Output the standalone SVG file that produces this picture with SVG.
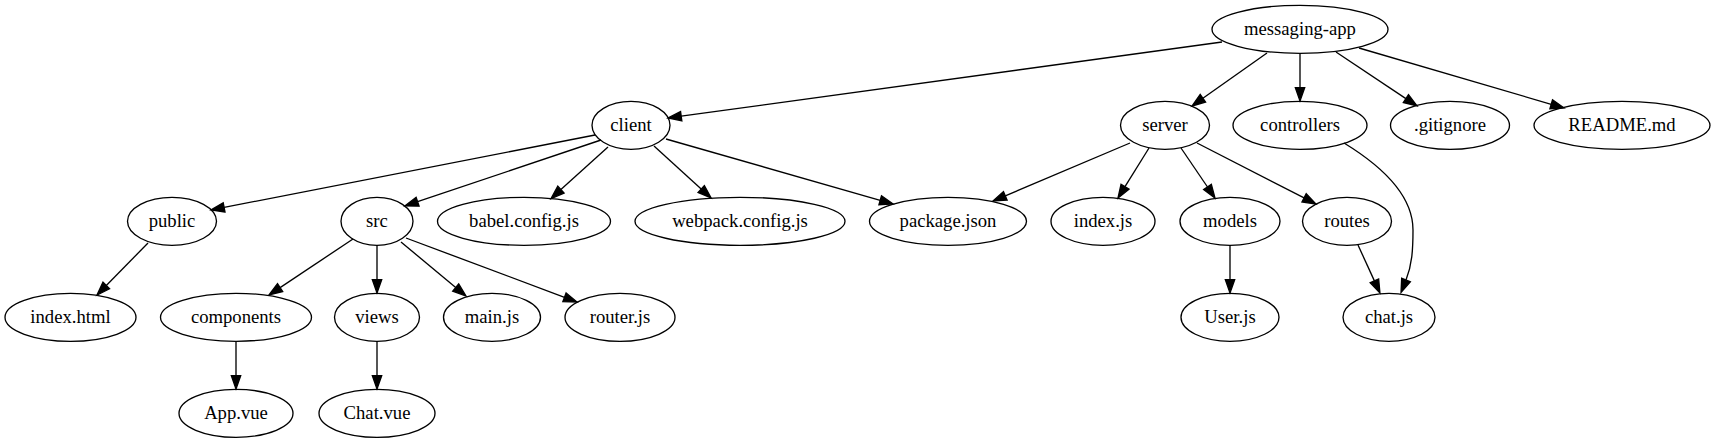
<svg xmlns="http://www.w3.org/2000/svg" width="1716" height="443" viewBox="0 0 1716 443">
<style>
.n ellipse{fill:none;stroke:#000;stroke-width:1.33}
text{font-family:'Liberation Serif','DejaVu Serif','Noto Serif',Times,serif;font-size:18.67px;text-anchor:middle;fill:#000}
#edges path{fill:none;stroke:#000;stroke-width:1.33;marker-end:url(#arr)}
</style>
<defs>
<marker id="arr" markerUnits="userSpaceOnUse" markerWidth="16" markerHeight="12" refX="0" refY="4.67" orient="auto" overflow="visible">
<path d="M0,0 L13.33,4.67 L0,9.33 Z" fill="#000" stroke="#000" stroke-width="1.33"/>
</marker>
</defs>
<rect width="1716" height="443" fill="#fff"/>
<g id="edges">
<path d="M1222,42 L681.2,116.2"/>
<path d="M1267,53 L1202.9,98.3"/>
<path d="M1300,54 L1300,87.7"/>
<path d="M1336,52 L1405.9,98.6"/>
<path d="M1359,48 L1551.2,104.3"/>
<path d="M595,135 L224.1,207.4"/>
<path d="M601,140 L417.6,201.7"/>
<path d="M608,147 L560.9,189.6"/>
<path d="M654,146 L701.2,189"/>
<path d="M666,139 L880.2,200.3"/>
<path d="M1130,143 L1005.3,195.8"/>
<path d="M1149,148 L1125,186.7"/>
<path d="M1181,148 L1207.5,187"/>
<path d="M1197,143 L1304.1,197.9"/>
<path d="M1344,143 C1380,165 1413,195 1413,230 C1413,250 1412,265 1406,280"/>
<path d="M148,243 L106.3,285.5"/>
<path d="M353,239 L280.1,287.6"/>
<path d="M377,245 L377,279.7"/>
<path d="M401,242 L455.7,287.5"/>
<path d="M406,238 L564.5,297.3"/>
<path d="M236,341 L236,375.7"/>
<path d="M377,341 L377,375.7"/>
<path d="M1230,245 L1230,279.7"/>
<path d="M1358,245 L1374.4,280.9"/>
</g>
<g id="messaging-app" class="n"><ellipse cx="1300" cy="29.3" rx="88" ry="24"/><text x="1300" y="34.9" style="font-family:'Liberation Serif',serif">messaging-app</text></g>
<g id="client" class="n"><ellipse cx="631" cy="125.3" rx="39" ry="24"/><text x="631" y="130.9">client</text></g>
<g id="server" class="n"><ellipse cx="1165" cy="125.3" rx="44.5" ry="24"/><text x="1165" y="130.9">server</text></g>
<g id="controllers" class="n"><ellipse cx="1300" cy="125.3" rx="67" ry="24"/><text x="1300" y="130.9">controllers</text></g>
<g id="gitignore" class="n"><ellipse cx="1450" cy="125.3" rx="59.5" ry="24"/><text x="1450" y="130.9">.gitignore</text></g>
<g id="readme" class="n"><ellipse cx="1622" cy="125.3" rx="88" ry="24"/><text x="1622" y="130.9">README.md</text></g>
<g id="public" class="n"><ellipse cx="172" cy="221.3" rx="44.5" ry="24"/><text x="172" y="226.9">public</text></g>
<g id="src" class="n"><ellipse cx="377" cy="221.3" rx="36" ry="24"/><text x="377" y="226.9">src</text></g>
<g id="babel" class="n"><ellipse cx="524" cy="221.3" rx="86.5" ry="24"/><text x="524" y="226.9">babel.config.js</text></g>
<g id="webpack" class="n"><ellipse cx="740" cy="221.3" rx="105" ry="24"/><text x="740" y="226.9">webpack.config.js</text></g>
<g id="package" class="n"><ellipse cx="948" cy="221.3" rx="78.5" ry="24"/><text x="948" y="226.9">package.json</text></g>
<g id="indexjs" class="n"><ellipse cx="1103" cy="221.3" rx="52" ry="24"/><text x="1103" y="226.9">index.js</text></g>
<g id="models" class="n"><ellipse cx="1230" cy="221.3" rx="50" ry="24"/><text x="1230" y="226.9">models</text></g>
<g id="routes" class="n"><ellipse cx="1347" cy="221.3" rx="44.5" ry="24"/><text x="1347" y="226.9">routes</text></g>
<g id="indexhtml" class="n"><ellipse cx="70.5" cy="317.3" rx="65.5" ry="24"/><text x="70.5" y="322.9">index.html</text></g>
<g id="components" class="n"><ellipse cx="236" cy="317.3" rx="75.5" ry="24"/><text x="236" y="322.9">components</text></g>
<g id="views" class="n"><ellipse cx="377" cy="317.3" rx="42.5" ry="24"/><text x="377" y="322.9">views</text></g>
<g id="mainjs" class="n"><ellipse cx="492" cy="317.3" rx="48.5" ry="24"/><text x="492" y="322.9">main.js</text></g>
<g id="routerjs" class="n"><ellipse cx="620" cy="317.3" rx="55" ry="24"/><text x="620" y="322.9">router.js</text></g>
<g id="userjs" class="n"><ellipse cx="1230" cy="317.3" rx="49" ry="24"/><text x="1230" y="322.9">User.js</text></g>
<g id="chatjs" class="n"><ellipse cx="1389" cy="317.3" rx="46" ry="24"/><text x="1389" y="322.9">chat.js</text></g>
<g id="appvue" class="n"><ellipse cx="236" cy="413.3" rx="57" ry="24"/><text x="236" y="418.9">App.vue</text></g>
<g id="chatvue" class="n"><ellipse cx="377" cy="413.3" rx="58" ry="24"/><text x="377" y="418.9">Chat.vue</text></g>
</svg>
